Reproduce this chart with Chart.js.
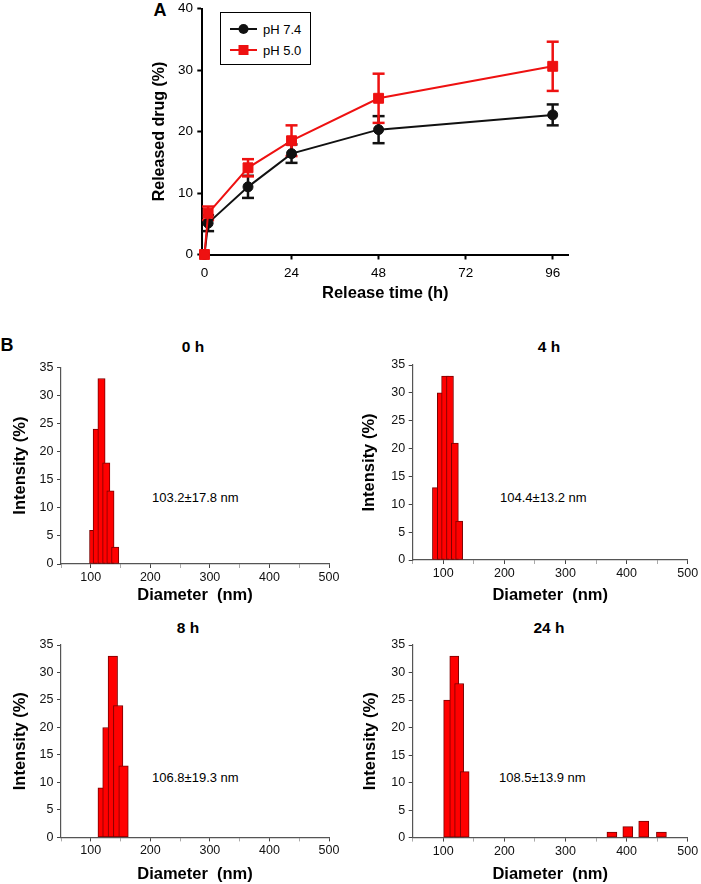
<!DOCTYPE html>
<html>
<head>
<meta charset="utf-8">
<script src="https://cdn.jsdelivr.net/npm/chart.js@4.4.1/dist/chart.umd.min.js"></script>
<style>
html,body{margin:0;padding:0;background:#fff;}
body{width:701px;height:884px;position:relative;overflow:hidden;font-family:"Liberation Sans",Arial,Helvetica,sans-serif;color:#000;}
canvas{position:absolute;}
.t{position:absolute;white-space:nowrap;line-height:1;}
.c{transform:translate(-50%,-50%);}
.l{transform:translate(0,-50%);}
.b{font-weight:bold;}
#legend{position:absolute;left:220px;top:12px;width:91px;height:53px;border:1px solid #000;box-sizing:border-box;background:#fff;z-index:5;}
#legend svg{position:absolute;}
#legend span{position:absolute;font-size:13px;line-height:1;transform:translate(0,-50%);white-space:nowrap;}
</style>
</head>
<body>

<div class="t c b" style="left:160px;top:10px;font-size:18px;">A</div>
<div class="t c b" style="left:7px;top:345px;font-size:18px;">B</div>

<div class="t c b" style="left:193px;top:347px;font-size:15.5px;">0 h</div>
<div class="t c b" style="left:549px;top:347px;font-size:15.5px;">4 h</div>
<div class="t c b" style="left:188px;top:628px;font-size:15.5px;">8 h</div>
<div class="t c b" style="left:549px;top:628px;font-size:15.5px;">24 h</div>

<div class="t l" style="left:152px;top:497px;font-size:13px;">103.2±17.8 nm</div>
<div class="t l" style="left:500px;top:497px;font-size:13px;">104.4±13.2 nm</div>
<div class="t l" style="left:152px;top:777px;font-size:13px;">106.8±19.3 nm</div>
<div class="t l" style="left:499px;top:777px;font-size:13px;">108.5±13.9 nm</div>

<div id="legend">
  <svg style="left:8px;top:10px" width="28" height="12"><line x1="1" y1="6" x2="28" y2="6" stroke="#111" stroke-width="2"/><circle cx="14.5" cy="6" r="5" fill="#111"/></svg>
  <span style="left:42px;top:16px;">pH 7.4</span>
  <svg style="left:8px;top:31px" width="28" height="12"><line x1="1" y1="6" x2="28" y2="6" stroke="#ee1111" stroke-width="2"/><rect x="9.5" y="1" width="10" height="10" fill="#ee1111"/></svg>
  <span style="left:42px;top:37px;">pH 5.0</span>
</div>

<script>
// ---------------- Data: panel A (drug release) ----------------
const releaseTimes = [0, 1, 12, 24, 48, 96];
const releasePH74 = [0, 5.1, 11.0, 16.4, 20.3, 22.7];
const errorPH74   = [0, 1.3, 1.8, 1.5, 2.2, 1.7];
const releasePH50 = [0, 6.7, 14.1, 18.5, 25.4, 30.6];
const errorPH50   = [0, 1.1, 1.4, 2.5, 4.0, 4.0];
const releaseXTicks = [0, 24, 48, 72, 96];
const releaseYTicks = [0, 10, 20, 30, 40];
const seriesNames = ['pH 7.4', 'pH 5.0'];

// ---------------- Data: panel B (DLS size distributions) ----------------
const diameter0h = [104, 110, 118, 126, 133, 141];
const intensity0h = [6, 24, 33, 18, 13, 3];
const diameter4h = [88, 96, 103, 111, 119, 126];
const intensity4h = [13, 30, 33, 33, 21, 7];
const diameter8h = [120, 128, 137, 146, 155];
const intensity8h = [9, 20, 33, 24, 13];
const diameter24h = [108, 118, 126, 135];
const intensity24h = [25, 33, 28, 12];
const diameter24hLarge = [376, 402, 428, 457];
const intensity24hLarge = [1, 2, 3, 1];
const diameterTicks = [50, 100, 150, 200, 250, 300, 350, 400, 450, 500];
const intensityTicks = [0, 2.5, 5, 7.5, 10, 12.5, 15, 17.5, 20, 22.5, 25, 27.5, 30, 32.5, 35];

const FONT = '"Liberation Sans", Arial, Helvetica, sans-serif';
const RED = '#ee1111';
const BLACK = '#111111';

function placeCanvas(L, T, W, H) {
  const c = document.createElement('canvas');
  c.width = W; c.height = H;
  c.style.left = L + 'px'; c.style.top = T + 'px';
  c.style.width = W + 'px'; c.style.height = H + 'px';
  document.body.appendChild(c);
  return c;
}
function fixY(w) { return s => { s.width = w; s.paddingTop = 0; s.paddingBottom = 0; s.paddingLeft = 0; s.paddingRight = 0; }; }
function fixX(h) { return s => { s.height = h; s.paddingTop = 0; s.paddingBottom = 0; s.paddingLeft = 0; s.paddingRight = 0; }; }

// ---------------- Panel A ----------------
(function () {
  const g = {L: 140, T: 0, W: 440, H: 310, left: 202.3, right: 568.3, top: 6, bottom: 254.5, yTitleX: 160, xTitleY: 293.5};
  const c = placeCanvas(g.L, g.T, g.W, g.H);
  const pts = ys => releaseTimes.map((t, i) => ({x: t, y: ys[i]}));
  const errs = (ys, es) => {
    const out = [];
    releaseTimes.forEach((t, i) => {
      if (es[i] > 0) out.push({x: t, y: ys[i] - es[i]}, {x: t, y: ys[i] + es[i]}, {x: t, y: null});
    });
    return out;
  };
  const errStyle = col => ({
    type: 'line', borderColor: col, borderWidth: 2.5, pointStyle: 'line', pointRadius: 6,
    pointBorderColor: col, pointBorderWidth: 2.5, spanGaps: false, clip: false, tension: 0, fill: false
  });
  new Chart(c, {
    type: 'line',
    data: {
      datasets: [
        {label: seriesNames[1], data: pts(releasePH50), borderColor: RED, backgroundColor: RED, borderWidth: 2,
         pointStyle: 'rect', pointRadius: 7, pointBackgroundColor: RED, pointBorderColor: RED, pointBorderWidth: 1,
         clip: false, order: 0, tension: 0, fill: false},
        {label: seriesNames[0], data: pts(releasePH74), borderColor: BLACK, backgroundColor: BLACK, borderWidth: 2,
         pointStyle: 'circle', pointRadius: 5, pointBackgroundColor: BLACK, pointBorderColor: BLACK, pointBorderWidth: 1,
         clip: false, order: 1, tension: 0, fill: false},
        Object.assign({label: seriesNames[1] + ' SD', data: errs(releasePH50, errorPH50), order: 2}, errStyle(RED)),
        Object.assign({label: seriesNames[0] + ' SD', data: errs(releasePH74, errorPH74), order: 3}, errStyle(BLACK))
      ]
    },
    options: {
      responsive: false, animation: false, devicePixelRatio: 1,
      layout: {padding: {left: 0, top: g.top - g.T, right: g.L + g.W - g.right, bottom: 0}},
      plugins: {legend: {display: false}, tooltip: {enabled: false}},
      scales: {
        x: {
          type: 'linear', min: -0.6, max: 100.3,
          afterBuildTicks: s => { s.ticks = releaseXTicks.map(v => ({value: v})); },
          afterFit: fixX(g.T + g.H - g.bottom),
          ticks: {autoSkip: false, maxRotation: 0, padding: 5.5, color: '#000', font: {family: FONT, size: 13.5}},
          grid: {drawOnChartArea: false, drawTicks: true, tickLength: 5, tickColor: '#000', tickWidth: 2},
          border: {display: true, color: '#000', width: 2},
          title: {display: true, text: 'Release time (h)', color: '#000',
                  font: {family: FONT, size: 16.5, weight: 'bold'},
                  padding: {top: 0, bottom: g.T + g.H - g.xTitleY - 16.5 * 0.6}}
        },
        y: {
          type: 'linear', min: 0, max: 40,
          afterBuildTicks: s => { s.ticks = releaseYTicks.map(v => ({value: v})); },
          afterFit: fixY(g.left - g.L),
          ticks: {padding: 4.3, color: '#000', font: {family: FONT, size: 13.5}},
          grid: {drawOnChartArea: false, drawTicks: true, tickLength: 5, tickColor: '#000', tickWidth: 2},
          border: {display: true, color: '#000', width: 2},
          title: {display: true, text: 'Released drug (%)', color: '#000',
                  font: {family: FONT, size: 16, weight: 'bold'},
                  padding: {top: g.yTitleX - g.L - 16 * 0.6, bottom: 0}}
        }
      }
    }
  });
})();

// ---------------- Panel B histograms ----------------
function makeHist(g, sets) {
  const c = placeCanvas(g.L, g.T, g.W, g.H);
  const half = 16.5 * 0.6;
  new Chart(c, {
    type: 'bar',
    data: {
      datasets: sets.map(s => ({
        label: 'Intensity',
        data: s.x.map((x, i) => ({x: x, y: s.y[i]})),
        backgroundColor: '#ff0000', borderColor: '#7a0000', borderWidth: 1,
        borderSkipped: false, barThickness: s.w, grouped: false
      }))
    },
    options: {
      responsive: false, animation: false, devicePixelRatio: 1,
      layout: {padding: {left: 0, top: g.top - g.T, right: g.L + g.W - g.right, bottom: 0}},
      plugins: {legend: {display: false}, tooltip: {enabled: false}},
      scales: {
        x: {
          type: 'linear', min: 50, max: 500, offset: false,
          afterBuildTicks: s => { s.ticks = diameterTicks.map(v => ({value: v})); },
          afterFit: fixX(g.T + g.H - g.bottom),
          ticks: {autoSkip: false, maxRotation: 0, padding: 2, color: '#111',
                  font: {family: FONT, size: 12.5},
                  callback: v => (v % 100 === 0 ? String(v) : '')},
          grid: {offset: false, drawOnChartArea: false, drawTicks: true, tickLength: 4,
                 tickColor: ctx => (ctx.tick && ctx.tick.value % 100 === 0 ? '#444' : '#aaa')},
          border: {display: true, color: '#555', width: 1.2},
          title: {display: true, text: 'Diameter  (nm)', color: '#000',
                  font: {family: FONT, size: 16.5, weight: 'bold'},
                  padding: {top: 0, bottom: Math.max(0, g.T + g.H - g.xTitleY - half)}}
        },
        y: {
          type: 'linear', min: 0, max: 35,
          afterBuildTicks: s => { s.ticks = intensityTicks.map(v => ({value: v})); },
          afterFit: fixY(g.left - g.L),
          ticks: {padding: 3.5, color: '#111', font: {family: FONT, size: 12.5},
                  callback: v => (v % 5 === 0 ? String(v) : '')},
          grid: {drawOnChartArea: false, drawTicks: true, tickLength: 4,
                 tickColor: ctx => (ctx.tick && ctx.tick.value % 5 === 0 ? '#444' : '#aaa')},
          border: {display: true, color: '#555', width: 1.2},
          title: {display: true, text: 'Intensity (%)', color: '#000',
                  font: {family: FONT, size: 16.5, weight: 'bold'},
                  padding: {top: g.yTitleX - g.L - half, bottom: 0}}
        }
      }
    }
  });
}

makeHist({L: 0, T: 330, W: 345, H: 280, left: 61, right: 329, top: 367.3, bottom: 564, yTitleX: 20.5, xTitleY: 595},
  [{x: diameter0h, y: intensity0h, w: 7.3}]);
makeHist({L: 349, T: 330, W: 351, H: 280, left: 412.7, right: 687.7, top: 365, bottom: 560, yTitleX: 369.5, xTitleY: 595},
  [{x: diameter4h, y: intensity4h, w: 7}]);
makeHist({L: 0, T: 612, W: 345, H: 272, left: 61, right: 329, top: 645, bottom: 837.4, yTitleX: 20.5, xTitleY: 875},
  [{x: diameter8h, y: intensity8h, w: 9.5}]);
makeHist({L: 349, T: 612, W: 351, H: 272, left: 412.7, right: 687.7, top: 645, bottom: 837.6, yTitleX: 370, xTitleY: 875},
  [{x: diameter24h, y: intensity24h, w: 9}, {x: diameter24hLarge, y: intensity24hLarge, w: 10}]);
</script>
</body>
</html>
